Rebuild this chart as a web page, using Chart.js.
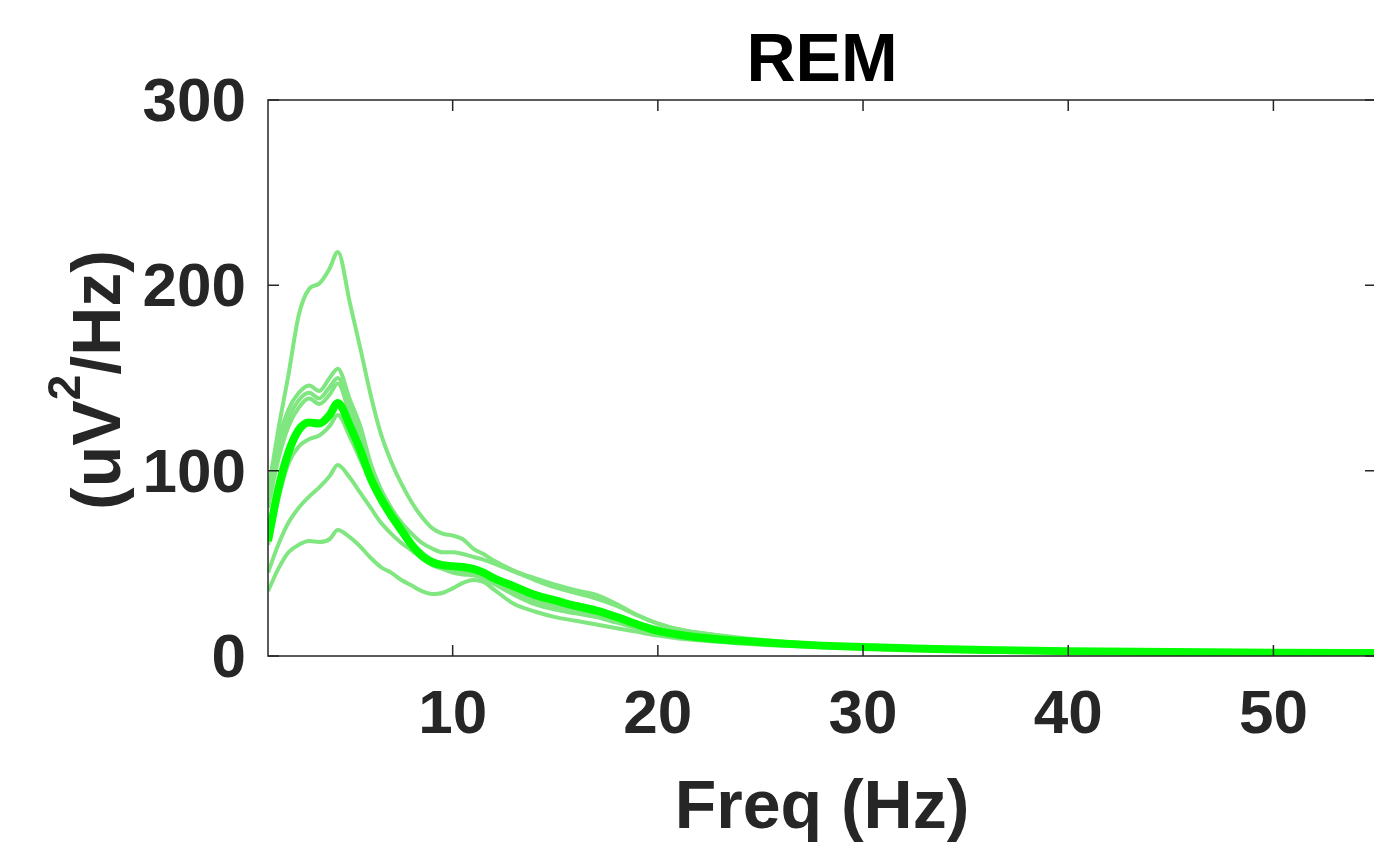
<!DOCTYPE html>
<html lang="en">
  <head>
    <meta charset="UTF-8" />
    <title>REM</title>
    <script src="https://cdn.jsdelivr.net/npm/chart.js"></script>
    <style>
      html, body { margin: 0; padding: 0; background: #fff; overflow: hidden; }
      /* plot box runs just past the right edge of the window, as in the source figure */
      .wrap { width: 1376px; height: 844px; position: relative; }
    </style>
  </head>
  <body>
    <div class="wrap">
      <canvas id="psdChart"></canvas>
    </div>

    <script>
      // frequency grid (Hz)
      const freq = [1, 1.5, 2, 2.5, 3, 3.5, 4, 4.4, 5, 5.5, 6, 6.5, 7, 7.5, 8, 8.5, 9, 9.5, 10, 10.5, 11, 11.5, 12, 13, 14, 15, 16, 17, 18, 19, 20, 21, 22, 24, 26, 28, 30, 33, 36, 40, 45, 50, 55];

      // individual spectra (uV^2/Hz)
      const subj1 = [88, 122, 152, 184, 198, 201, 209, 218, 190, 166, 141, 120, 105, 93, 83, 75, 69, 66, 65, 63, 58, 55, 51.5, 46, 42, 38.5, 35.5, 33, 28, 22, 17.5, 14.5, 12.5, 9.8, 7.8, 6.3, 5.2, 4.2, 3.5, 2.8, 2.2, 1.9, 1.7];
      const subj2 = [90, 116, 133, 142, 146, 143, 150, 155, 138, 124, 104, 90, 80, 72, 66, 61, 58, 56, 56, 55, 53.5, 52, 50, 45.5, 41, 37, 34, 31, 27, 22, 17.5, 14.5, 12.5, 9.5, 7.5, 6, 5, 4, 3.3, 2.7, 2.1, 1.8, 1.6];
      const subj3 = [86, 110, 128, 138, 142, 139, 145, 150, 134, 118, 99, 86, 76, 68, 61, 56, 52, 50, 49, 48, 47, 45, 43, 38, 33.5, 30, 28, 25.5, 22, 18, 15, 12.5, 11, 8.8, 7, 5.8, 4.8, 3.9, 3.2, 2.6, 2.1, 1.8, 1.6];
      const subj4 = [80, 106, 124, 134, 139, 136, 141, 147, 130, 115, 97, 84, 74, 66, 59, 54, 50, 48, 47, 46.5, 46, 44, 41, 36, 31.5, 28, 26, 24, 21, 17, 14, 12, 10.5, 8.5, 6.8, 5.6, 4.7, 3.8, 3.1, 2.5, 2, 1.7, 1.5];
      const subj5 = [60, 85, 104, 113, 117, 119, 124, 130, 118, 106, 94, 83, 74, 66, 59, 54, 50, 48, 46.5, 45.5, 44.5, 42.5, 40, 34, 30, 27, 25, 22.5, 19.5, 16, 13, 11, 9.8, 8, 6.5, 5.4, 4.5, 3.7, 3, 2.4, 1.9, 1.6, 1.4];
      const subj6 = [45, 60, 72, 80, 86, 91, 97, 103, 96, 88, 80, 72, 66, 61, 57, 53, 49, 47, 45, 44, 43.5, 42, 39, 33, 28, 25, 23, 21, 18, 15, 12.5, 10.5, 9.5, 7.8, 6.4, 5.3, 4.4, 3.6, 3, 2.4, 1.9, 1.6, 1.4];
      const subj7 = [35, 47, 56, 60, 62, 61.5, 63, 68, 64, 59, 53, 48, 45, 41, 38, 35, 33.5, 34, 36.5, 39.5, 41, 40, 36, 28, 24, 21, 19, 17, 15, 13, 11, 9.5, 8.5, 6.8, 5.6, 4.7, 4, 3.3, 2.8, 2.2, 1.8, 1.5, 1.3];

      // group average
      const meanPsd = [62, 90, 110, 122, 126, 125.5, 130, 136.5, 124, 111, 96, 85, 76, 68, 60, 54, 50.5, 49, 48.5, 48, 47, 45, 42, 37.5, 33, 30, 27, 24.5, 21, 17, 13.5, 11.5, 10, 8.2, 6.7, 5.6, 4.8, 3.9, 3.3, 2.6, 2.1, 1.8, 1.6];

      const xTicks = [10, 20, 30, 40, 50];
      const yTicks = [0, 100, 200, 300];

      const FONT = "'Liberation Sans', Arial, Helvetica, sans-serif";
      const INK = "#262626";
      const LIGHT = "rgb(128, 230, 128)";
      const BRIGHT = "#00ff00";

      const toPoints = (vals) => vals.map((v, i) => ({ x: freq[i], y: v }));

      const subjects = [subj1, subj2, subj3, subj4, subj5, subj6, subj7];
      const datasets = [
        {
          label: "mean",
          data: toPoints(meanPsd),
          borderColor: BRIGHT,
          borderWidth: 8,
          order: 0,
        },
      ].concat(
        subjects.map((s, i) => ({
          label: "s" + (i + 1),
          data: toPoints(s),
          borderColor: LIGHT,
          borderWidth: 4,
          order: 1,
        }))
      );

      // MATLAB-like box, inward ticks and the text labels
      const boxAxes = {
        id: "boxAxes",
        afterDraw(chart) {
          const { ctx, chartArea: a, scales } = chart;
          const x = scales.x;
          const y = scales.y;
          const tl = 11;
          ctx.save();
          ctx.strokeStyle = INK;
          ctx.lineWidth = 1.5;
          ctx.strokeRect(a.left, a.top, a.right - a.left, a.bottom - a.top);
          ctx.beginPath();
          x.ticks.forEach((t) => {
            const px = x.getPixelForValue(t.value);
            ctx.moveTo(px, a.bottom);
            ctx.lineTo(px, a.bottom - tl);
            ctx.moveTo(px, a.top);
            ctx.lineTo(px, a.top + tl);
          });
          y.ticks.forEach((t) => {
            const py = y.getPixelForValue(t.value);
            ctx.moveTo(a.left, py);
            ctx.lineTo(a.left + tl, py);
            ctx.moveTo(a.right, py);
            ctx.lineTo(a.right - tl, py);
          });
          ctx.stroke();

          const cx = (a.left + a.right) / 2;
          const cy = (a.top + a.bottom) / 2;

          // title
          ctx.fillStyle = "#000";
          ctx.textAlign = "center";
          ctx.textBaseline = "alphabetic";
          ctx.font = "bold 68px " + FONT;
          ctx.fillText("REM", cx, 81);

          // x label
          ctx.fillStyle = INK;
          ctx.fillText("Freq (Hz)", cx, 828);

          // y label with superscript
          const big = "bold 68px " + FONT;
          const small = "bold 46px " + FONT;
          const p1 = "(uV", p2 = "2", p3 = "/Hz)";
          ctx.font = big;
          const w1 = ctx.measureText(p1).width;
          const w3 = ctx.measureText(p3).width;
          ctx.font = small;
          const w2 = ctx.measureText(p2).width;
          const total = w1 + w2 + w3;
          ctx.translate(120, cy + 2);
          ctx.rotate(-Math.PI / 2);
          ctx.textAlign = "left";
          let sx = -total / 2;
          ctx.font = big;
          ctx.fillText(p1, sx, 0);
          sx += w1;
          ctx.font = small;
          ctx.fillText(p2, sx, -40);
          sx += w2;
          ctx.font = big;
          ctx.fillText(p3, sx, 0);
          ctx.restore();
        },
      };

      new Chart(document.getElementById("psdChart"), {
        type: "line",
        data: { datasets },
        options: {
          responsive: true,
          maintainAspectRatio: false,
          animation: false,
          devicePixelRatio: 1,
          layout: { padding: { top: 100, right: 0, left: 0, bottom: 0 } },
          elements: {
            point: { radius: 0 },
            line: { cubicInterpolationMode: "monotone", fill: false },
          },
          datasets: { line: { clip: 0 } },
          plugins: {
            legend: { display: false },
            tooltip: { enabled: false },
            title: { display: false },
          },
          scales: {
            x: {
              type: "linear",
              min: 1,
              max: 55,
              grid: { display: false, drawTicks: false },
              border: { display: false },
              afterBuildTicks: (scale) => {
                scale.ticks = xTicks.map((v) => ({ value: v }));
              },
              afterFit: (scale) => {
                scale.height = 188;
              },
              ticks: {
                padding: 23,
                color: INK,
                maxRotation: 0,
                font: { family: FONT, size: 62, weight: "bold" },
              },
            },
            y: {
              min: 0,
              max: 300,
              grid: { display: false, drawTicks: false },
              border: { display: false },
              afterBuildTicks: (scale) => {
                scale.ticks = yTicks.map((v) => ({ value: v }));
              },
              afterFit: (scale) => {
                scale.width = 268;
              },
              ticks: {
                padding: 22,
                labelOffset: 4,
                color: INK,
                font: { family: FONT, size: 62, weight: "bold" },
              },
            },
          },
        },
        plugins: [boxAxes],
      });
    </script>
  </body>
</html>
